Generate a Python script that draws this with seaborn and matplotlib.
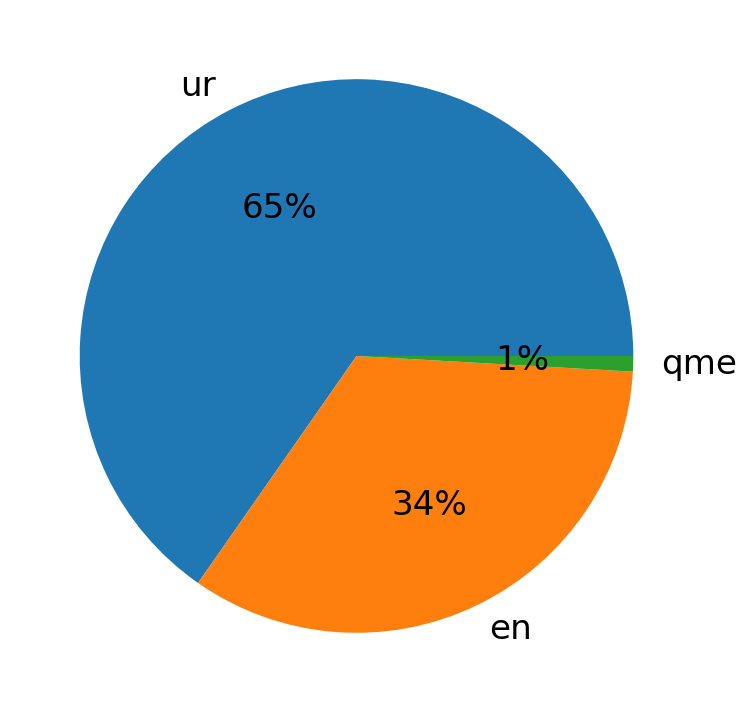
import matplotlib
matplotlib.use("Agg")
import matplotlib.pyplot as plt
import seaborn as sns

labels = ["ur", "en", "qme"]
values = [65.3, 33.8, 0.9]

colors = sns.color_palette("tab10", 3)
plt.rcParams['font.family'] = ['DejaVu Sans']

fig = plt.figure(figsize=(7.48, 7.13), dpi=100)
W, H = 748, 713
ax = fig.add_axes([10.5 / W, 11 / H, 692 / W, 692 / H])
ax.pie(values, labels=labels, colors=colors, autopct='%1.0f%%',
       wedgeprops={'linewidth': 0},
       textprops={'fontsize': 24.6, 'color': 'black'})
fig.savefig("out.png", dpi=100)
